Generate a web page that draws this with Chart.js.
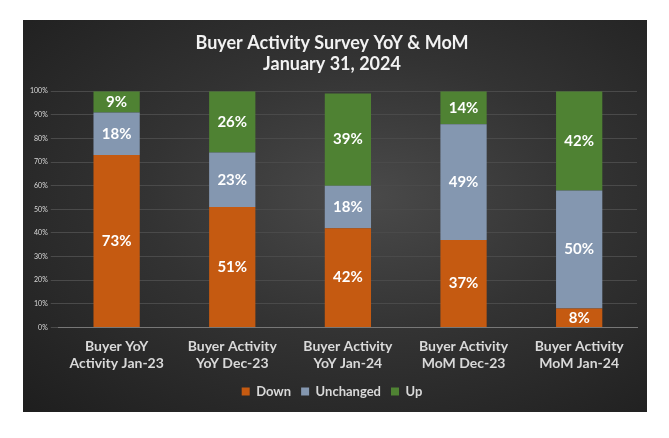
<!DOCTYPE html>
<html>
<head>
<meta charset="utf-8">
<script src="https://cdn.jsdelivr.net/npm/chart.js@4"></script>
<style>
  body { margin: 0; background: #fff; }
  #panel {
    position: absolute; left: 23px; top: 20px; width: 624px; height: 392px;
    background: radial-gradient(ellipse at 55% 45%, #4a4a4a 0%, #333 45%, #1e1e1e 100%);
  }
</style>
</head>
<body>
<div id="panel"><canvas id="myChart"></canvas></div>
<script>
const categorias = [
  ['Buyer YoY', 'Activity Jan-23'],
  ['Buyer Activity', 'YoY Dec-23'],
  ['Buyer Activity', 'YoY Jan-24'],
  ['Buyer Activity', 'MoM Dec-23'],
  ['Buyer Activity', 'MoM Jan-24']
];
const down = [73, 51, 42, 37, 8];
const unchanged = [18, 23, 18, 49, 50];
const up = [9, 26, 39, 14, 42];

const fonte = 'Lato, "DejaVu Sans", sans-serif';

const rotulos = {
  id: 'rotulos',
  afterDatasetsDraw(chart) {
    const ctx = chart.ctx;
    ctx.save();
    ctx.fillStyle = '#fff';
    ctx.font = 'bold 15px ' + fonte;
    ctx.textAlign = 'center';
    ctx.textBaseline = 'middle';
    chart.data.datasets.forEach((ds, i) => {
      chart.getDatasetMeta(i).data.forEach((bar, j) => {
        const y = (bar.y + bar.base) / 2;
        ctx.fillText(ds.data[j] + '%', bar.x, y);
      });
    });
    ctx.restore();
  }
};

const ctx = document.getElementById('myChart');
const myChart = new Chart(ctx, {
  type: 'bar',
  data: {
    labels: categorias,
    datasets: [
      { label: 'Down', data: down, backgroundColor: '#c55a11' },
      { label: 'Unchanged', data: unchanged, backgroundColor: '#8497b0' },
      { label: 'Up', data: up, backgroundColor: '#4f8233' }
    ]
  },
  options: {
    responsive: true,
    maintainAspectRatio: false,
    animation: false,
    layout: { padding: { left: 4, right: 10, top: 8, bottom: 4 } },
    datasets: { bar: { barPercentage: 0.4, categoryPercentage: 1 } },
    scales: {
      x: {
        stacked: true,
        grid: { display: false },
        border: { color: '#777' },
        ticks: { color: '#d9d9d9', font: { family: fonte, size: 14, weight: 'bold' }, maxRotation: 0 }
      },
      y: {
        stacked: true, min: 0, max: 100,
        ticks: { stepSize: 10, color: '#d9d9d9', font: { family: fonte, size: 7 }, callback: v => v + '%' },
        grid: { color: '#4a4a4a' },
        border: { display: false }
      }
    },
    plugins: {
      title: {
        display: true,
        text: ['Buyer Activity Survey YoY & MoM', 'January 31, 2024'],
        color: '#f2f2f2',
        font: { family: fonte, size: 18, weight: 'bold' },
        padding: { top: 4, bottom: 16 }
      },
      legend: {
        position: 'bottom',
        labels: { color: '#d9d9d9', boxWidth: 8, boxHeight: 8, font: { family: fonte, size: 13, weight: 'bold' } }
      },
      tooltip: { enabled: false }
    }
  },
  plugins: [rotulos]
});
</script>
</body>
</html>
